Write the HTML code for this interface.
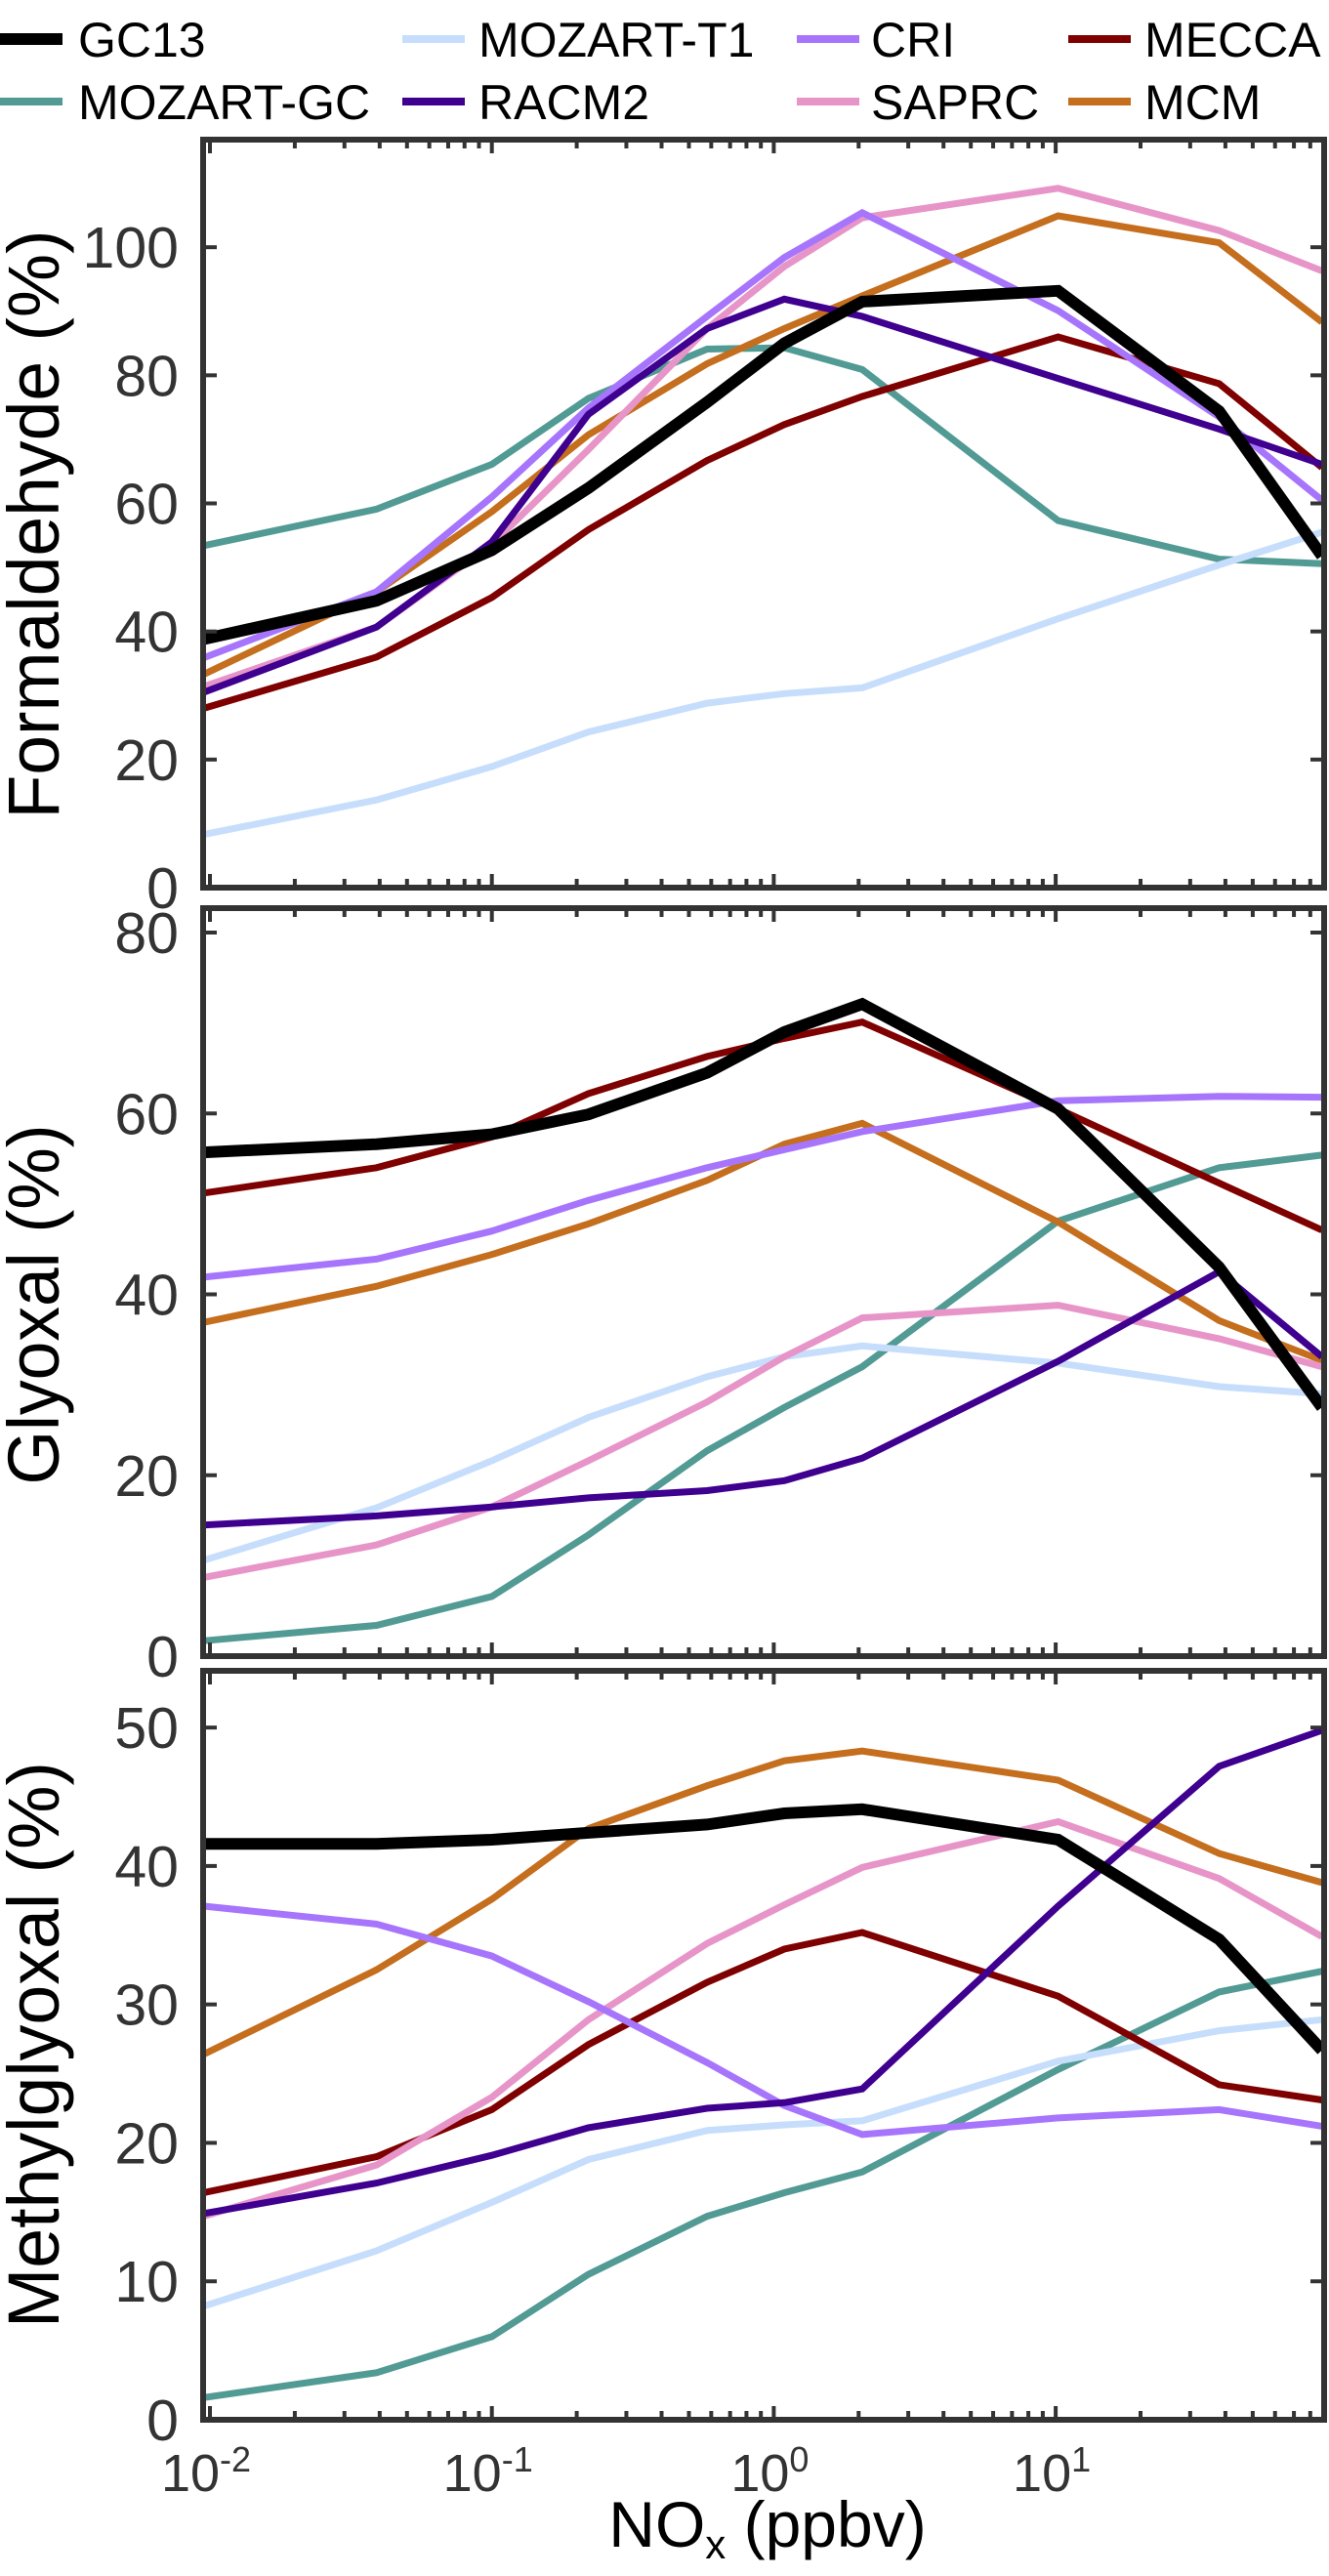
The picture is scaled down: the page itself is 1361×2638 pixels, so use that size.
<!DOCTYPE html>
<html><head><meta charset="utf-8"><style>
html,body{margin:0;padding:0;background:#fff;}
svg{display:block;font-family:"Liberation Sans",Arial,sans-serif;}
</style></head><body>
<svg id="chart" width="1361" height="2638" viewBox="0 0 1361 2638" xmlns="http://www.w3.org/2000/svg">
<defs>
<clipPath id="c1"><rect x="208" y="143" width="1148" height="766"/></clipPath>
<clipPath id="c2"><rect x="208" y="930" width="1148" height="766"/></clipPath>
<clipPath id="c3"><rect x="208" y="1711" width="1148" height="767"/></clipPath>
</defs>
<g id="legend"></g>
<g id="plots"></g>
</svg>
<script>
const NS="http://www.w3.org/2000/svg";
const svg=document.getElementById('chart');
const nox=[0.0095,0.039,0.1,0.22,0.58,1.09,2.06,10.2,38,88];
const seriesNames=["GC13","MOZART-GC","MOZART-T1","RACM2","CRI","SAPRC","MECCA","MCM"];
const seriesColors=["#000000","#529a94","#c6defc","#3f0090","#a675fc","#e795c8","#7f0000","#c46e1e"];
// Formaldehyde (%)
const hcho_GC13=[38.8,44.8,52.7,62.4,75.8,85,91.5,93.2,74.4,51.8];
const hcho_MOZGC=[53.4,59.1,66.1,76.4,84.1,84.3,80.9,57.3,51.3,50.6];
const hcho_MOZT1=[8.3,13.7,18.9,24.3,28.8,30.3,31.2,42,50.4,55.5];
const hcho_RACM2=[30.5,40.7,54,73.9,87.3,91.9,89.2,79.5,71.6,66.1];
const hcho_CRI=[35.9,46.2,61,74.9,89.2,98.4,105.4,90.1,73.5,60.5];
const hcho_SAPRC=[31.4,40.7,53.6,68.4,87.3,97,104.6,109.2,102.6,96.3];
const hcho_MECCA=[28,36,45.3,55.9,66.7,72.3,76.7,86,78.7,65.6];
const hcho_MCM=[33.3,46.2,58.7,70.7,81.8,87.3,92.4,104.9,100.7,88.3];
// Glyoxal (%)
const gly_GC13=[55.7,56.6,57.7,59.9,64.5,69,72.1,60.5,43,27.5];
const gly_MOZGC=[1.7,3.4,6.6,13.4,22.7,27.5,32,48.1,54,55.4];
const gly_MOZT1=[10.6,16.4,21.6,26.4,30.9,33.1,34.3,32.4,29.8,29];
const gly_RACM2=[14.5,15.5,16.5,17.5,18.3,19.4,21.9,32.6,42.5,33.1];
const gly_CRI=[41.9,43.9,47,50.4,54,56,58,61.4,61.9,61.8];
const gly_SAPRC=[8.7,12.3,16.5,21.6,28.1,33.1,37.4,38.8,35.1,32];
const gly_MECCA=[51.2,54,57.4,62.2,66.3,68.3,70.1,60.5,52.3,47.1];
const gly_MCM=[36.9,40.9,44.4,47.8,52.6,56.6,58.9,48,37.1,32.7];
// Methylglyoxal (%)
const mgly_GC13=[41.6,41.6,41.9,42.4,43,43.8,44.1,41.9,34.7,26.7];
const mgly_MOZGC=[1.6,3.4,6,10.5,14.7,16.4,17.9,25.3,30.9,32.4];
const mgly_MOZT1=[8.2,12.2,15.7,18.8,20.9,21.3,21.6,25.9,28.1,28.9];
const mgly_RACM2=[14.9,17.1,19.1,21.1,22.5,22.9,23.9,37.1,47.2,49.8];
const mgly_CRI=[37.1,35.8,33.5,30.2,25.8,22.7,20.6,21.8,22.4,21.2];
const mgly_SAPRC=[14.7,18.4,23.3,28.9,34.4,37.2,39.9,43.2,39.1,34.9];
const mgly_MECCA=[16.4,19,22.4,27.1,31.6,34,35.2,30.6,24.2,23.1];
const mgly_MCM=[26.4,32.5,37.6,42.7,45.8,47.6,48.3,46.2,40.9,38.8];
const yTicks1=[0,20,40,60,80,100];
const yTicks2=[0,20,40,60,80];
const yTicks3=[0,10,20,30,40,50];
const xTickExps=[-2,-1,0,1];

function el(tag,attrs,parent){const e=document.createElementNS(NS,tag);for(const k in attrs)e.setAttribute(k,attrs[k]);(parent||svg).appendChild(e);return e;}
const X0=208,X1=1356;
function xs(v){return 215+(Math.log10(v)+2)*288.7;}

const panels=[
 {top:143,bot:909,ymax:116.8,ticks:yTicks1,title:"Formaldehyde (%)",tlen:603,tc:537,clip:"c1",key:"formaldehyde",
  data:[hcho_GC13,hcho_MOZGC,hcho_MOZT1,hcho_RACM2,hcho_CRI,hcho_SAPRC,hcho_MECCA,hcho_MCM]},
 {top:930,bot:1696,ymax:82.7,ticks:yTicks2,title:"Glyoxal (%)",tlen:369,tc:1336,clip:"c2",key:"glyoxal",
  data:[gly_GC13,gly_MOZGC,gly_MOZT1,gly_RACM2,gly_CRI,gly_SAPRC,gly_MECCA,gly_MCM]},
 {top:1711,bot:2478,ymax:54.1,ticks:yTicks3,title:"Methylglyoxal (%)",tlen:580,tc:2094,clip:"c3",key:"methylglyoxal",
  data:[mgly_GC13,mgly_MOZGC,mgly_MOZT1,mgly_RACM2,mgly_CRI,mgly_SAPRC,mgly_MECCA,mgly_MCM]}
];
const plots=document.getElementById('plots');
const drawOrder=[1,2,6,7,5,4,3,0];
panels.forEach((p,pi)=>{
  const g=el('g',{},plots);
  
  
  const ys=v=>p.bot-(v/p.ymax)*(p.bot-p.top);
  const lg=el('g',{'clip-path':'url(#'+p.clip+')'},g);
  drawOrder.forEach(si=>{
    const pts=p.data[si].map((v,i)=>xs(nox[i]).toFixed(1)+','+ys(v).toFixed(1)).join(' ');
    const pl=el('polyline',{points:pts,fill:'none',stroke:seriesColors[si],'stroke-width':si===0?12:7,'stroke-linejoin':'miter'},lg);
    
    
  });
  for(let e=-2;e<=1;e++){for(let m=1;m<=9;m++){const v=m*Math.pow(10,e);const x=xs(v);if(x<X0+2||x>X1-2)continue;const L=m===1?14:9;
    el('line',{x1:x,x2:x,y1:p.top,y2:p.top+L,stroke:'#333','stroke-width':4},g);
    el('line',{x1:x,x2:x,y1:p.bot,y2:p.bot-L,stroke:'#333','stroke-width':4},g);}}
  p.ticks.forEach(t=>{const y=ys(t);
    el('line',{x1:X0,x2:X0+14,y1:y,y2:y,stroke:'#333','stroke-width':4},g);
    el('line',{x1:X1,x2:X1-14,y1:y,y2:y,stroke:'#333','stroke-width':4},g);
    const tx=el('text',{x:183,y:y+21,'text-anchor':'end','font-size':59,fill:'#333'},g);
    tx.textContent=t;
    
    
  });
  const fr=el('rect',{x:X0,y:p.top,width:X1-X0,height:p.bot-p.top,fill:'none',stroke:'#333','stroke-width':6},g);
  
  
  const tt=el('text',{x:0,y:0,transform:'translate(60,'+p.tc+') rotate(-90)','text-anchor':'middle','font-size':74,fill:'#000',textLength:p.tlen,lengthAdjust:'spacingAndGlyphs'},g);
  tt.textContent=p.title;
  
  
});
xTickExps.forEach(e=>{const x=xs(Math.pow(10,e));
  const t=el('text',{x:x-4,y:2551,'text-anchor':'middle','font-size':54,fill:'#333'});
  
  
  const a=el('tspan',{},t);a.textContent='10';
  const b=el('tspan',{dy:-20,'font-size':36},t);b.textContent=String(e);
});
const xt=el('text',{x:786,y:2608,'text-anchor':'middle','font-size':66,fill:'#000'});


const t1=el('tspan',{},xt);t1.textContent='NO';
const t2=el('tspan',{'font-size':42,dy:12},xt);t2.textContent='x';
const t3=el('tspan',{dy:-12},xt);t3.textContent=' (ppbv)';
const legend=document.getElementById('legend');
const legPos=[[0,0],[0,1],[1,0],[1,1],[2,0],[2,1],[3,0],[3,1]];
const colX=[[0,80],[412,490],[816,892],[1094,1172]];
const rowY=[40,104];
seriesNames.forEach((n,i)=>{const c=legPos[i][0],r=legPos[i][1];
  const g=el('g',{},legend);
  
  
  el('line',{x1:colX[c][0],x2:colX[c][0]+64,y1:rowY[r],y2:rowY[r],stroke:seriesColors[i],'stroke-width':i===0?12:8},g);
  const t=el('text',{x:colX[c][1],y:rowY[r]+18,'font-size':50,fill:'#000'},g);
  t.textContent=n;
});
</script>
</body></html>
